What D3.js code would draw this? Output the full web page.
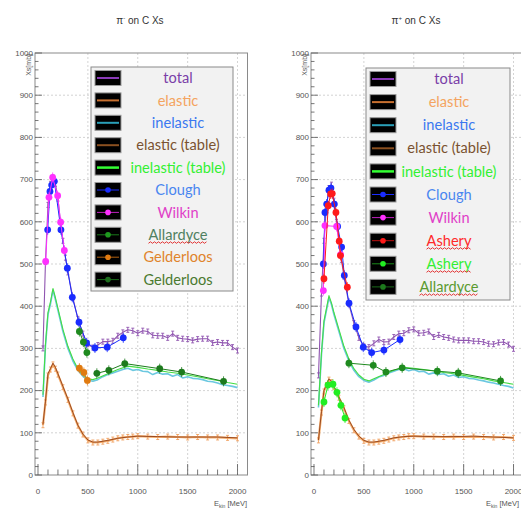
<!DOCTYPE html>
<html><head><meta charset="utf-8">
<script src="https://cdn.jsdelivr.net/npm/d3@7"></script>
<style>body{margin:0;background:#fff;} svg{display:block;}</style>
</head><body>
<svg id="c" width="521" height="508"></svg>
<script>
// ---------------- DATA: pi- on C ----------------
const xTicks = [0, 500, 1000, 1500, 2000];
const yTicks = [0, 100, 200, 300, 400, 500, 600, 700, 800, 900, 1000];

const pm_total = [[50,300],[75,505],[100,640],[125,690],[150,705],[175,690],[200,655],[225,600],[250,555],[275,515],[300,480],[350,420],[400,370],[450,335],[500,310],[550,302],[600,308],[650,316],[700,316],[750,318],[800,330],[850,338],[900,344],[950,342],[1000,336],[1050,342],[1100,340],[1150,331],[1200,330],[1250,330],[1300,325],[1350,335],[1400,325],[1450,323],[1500,322],[1550,319],[1600,322],[1650,323],[1700,323],[1750,313],[1800,315],[1850,313],[1900,313],[1950,303],[2000,295]];
const pm_elastic = [[50,118],[75,172],[100,236],[125,250],[150,262],[175,252],[200,238],[250,208],[300,178],[350,146],[400,117],[450,96],[500,82],[550,77],[600,77],[650,79],[700,81],[750,84],[800,87],[850,89],[900,90],[950,91],[1000,92],[1100,91],[1200,90],[1300,91],[1400,90],[1500,89],[1600,90],[1700,89],[1800,89],[1900,88],[2000,87]];
const pm_inelastic = [[50,185],[75,305],[100,380],[125,405],[150,438],[175,415],[200,390],[250,340],[300,300],[350,270],[400,248],[450,234],[500,225],[550,222],[600,226],[650,233],[700,238],[750,242],[800,246],[850,250],[900,253],[950,248],[1000,250],[1050,246],[1100,245],[1150,238],[1200,243],[1250,239],[1300,240],[1350,234],[1400,238],[1450,230],[1500,233],[1550,229],[1600,228],[1650,226],[1700,222],[1750,221],[1800,218],[1850,214],[1900,212],[1950,210],[2000,207]];
const pm_elasticTable = [[50,120],[75,175],[100,240],[125,252],[150,265],[175,255],[200,240],[250,210],[300,180],[350,148],[400,118],[450,97],[500,83],[550,78],[600,78],[700,82],[800,87],[900,90],[1000,92],[1200,91],[1400,90],[1600,90],[1800,90],[2000,88]];
const pm_inelasticTable = [[50,190],[75,310],[100,385],[125,410],[150,442],[175,420],[200,395],[250,345],[300,305],[350,275],[400,252],[450,238],[500,228],[550,226],[600,230],[700,240],[800,250],[900,258],[1000,255],[1100,251],[1200,248],[1300,244],[1400,241],[1500,237],[1600,233],[1700,228],[1800,224],[1900,219],[2000,215]];
const pm_clough = [[97,581],[120,672],[137,687],[164,696],[230,581],[294,490],[344,421],[411,362],[487,313],[571,301],[694,303],[855,325]];
const pm_wilkin = [[77,506],[110,658],[147,705],[197,662],[227,599],[264,532]];
const pm_allardyce = [[415,340],[455,315],[490,290]];
const pm_gelderloosA = [[415,253],[460,243],[495,224]];
const pm_gelderloosB = [[590,241],[710,248],[870,264],[1220,252],[1440,244],[1860,222]];

// ---------------- DATA: pi+ on C ----------------
const pp_total = [[45,236],[75,430],[100,555],[125,635],[150,680],[175,688],[200,650],[225,600],[250,555],[275,510],[300,470],[350,405],[400,360],[450,325],[500,305],[550,303],[600,312],[650,321],[700,315],[750,316],[800,327],[850,335],[900,336],[950,343],[1000,345],[1050,336],[1100,337],[1150,340],[1200,327],[1250,332],[1300,327],[1350,325],[1400,321],[1450,319],[1500,319],[1550,319],[1600,317],[1650,317],[1700,315],[1750,311],[1800,310],[1850,314],[1900,315],[1950,309],[2000,299]];
const pp_elastic = [[45,82],[75,148],[100,198],[125,213],[150,226],[175,220],[200,208],[250,183],[300,158],[350,128],[400,106],[450,91],[500,81],[550,77],[600,77],[650,79],[700,81],[750,84],[800,87],[850,89],[900,90],[950,92],[1000,92],[1100,91],[1200,91],[1300,90],[1400,91],[1500,90],[1600,91],[1700,90],[1800,89],[1900,90],[2000,88]];
const pp_inelastic = [[45,160],[75,285],[100,360],[125,390],[150,420],[175,404],[200,380],[250,340],[300,300],[350,270],[400,248],[450,233],[500,224],[550,220],[600,225],[650,232],[700,236],[750,242],[800,246],[850,250],[900,252],[950,247],[1000,250],[1050,245],[1100,246],[1150,239],[1200,242],[1250,238],[1300,240],[1350,234],[1400,237],[1450,231],[1500,233],[1550,229],[1600,228],[1650,225],[1700,223],[1750,220],[1800,218],[1850,215],[1900,212],[1950,210],[2000,206]];
const pp_elasticTable = [[45,83],[75,150],[100,200],[125,215],[150,228],[175,222],[200,210],[250,185],[300,160],[350,130],[400,108],[450,92],[500,82],[550,78],[600,78],[700,82],[800,88],[900,91],[1000,92],[1200,91],[1400,91],[1600,92],[1800,90],[2000,88]];
const pp_inelasticTable = [[45,165],[75,290],[100,365],[125,395],[150,425],[175,408],[200,385],[250,345],[300,305],[350,275],[400,252],[450,237],[500,227],[550,223],[600,228],[700,238],[800,248],[900,255],[1000,253],[1100,250],[1200,247],[1300,243],[1400,240],[1500,236],[1600,232],[1700,228],[1800,223],[1900,219],[2000,215]];
const pp_clough = [[94,500],[110,622],[127,642],[150,675],[170,680],[204,642],[237,589],[277,540],[304,473],[351,407],[421,351],[494,303],[578,290],[701,296],[862,321]];
const pp_wilkin = [[94,437],[110,591],[227,589],[267,522]];
const pp_asheryRed = [[100,465],[143,638],[167,666],[183,667],[220,622],[253,554],[265,520],[334,445]];
const pp_asheryGreen = [[100,173],[140,213],[190,215],[230,196],[270,165],[311,135]];
const pp_allardyce = [[350,265],[594,260],[721,244],[884,254],[1236,246],[1446,242],[1870,223]];

// ---------------- DRAWING ----------------
const svg = d3.select("#c");
svg.append("rect").attr("width",521).attr("height",508).attr("fill","#fff");

function wavy(g, x0, x1, yy){
  let d = `M${x0},${yy}`;
  let up = true;
  for (let xx = x0 + 2; xx <= x1; xx += 2){ d += `L${xx},${yy + (up ? -1.5 : 0)}`; up = !up; }
  g.append("path").attr("d", d).attr("fill","none").attr("stroke","#e02020").attr("stroke-width",0.9);
}

function panel(o){
  const g = svg.append("g").attr("transform", `translate(${o.dx},0)`);
  const x = d3.scaleLinear().domain([-30,2100]).range([35,247.5]);
  const y = d3.scaleLinear().domain([0,1000]).range([475,53]);
  const clipId = "clip" + o.dx;
  g.append("clipPath").attr("id", clipId).append("rect")
    .attr("x", 35).attr("y", 53).attr("width", 212.5).attr("height", 422);

  // title
  g.append("text").attr("x", 140).attr("y", 24).attr("text-anchor","middle")
    .attr("font-family","Liberation Sans, Arial, sans-serif").attr("font-size",10).attr("fill","#333")
    .html(o.title);

  // grid
  const grid = g.append("g").attr("stroke","#c8c8c8").attr("stroke-width",0.8).attr("stroke-dasharray","2,2");
  grid.selectAll("line.gx").data(xTicks.filter(d=>d>0)).join("line")
    .attr("x1", d=>x(d)).attr("x2", d=>x(d)).attr("y1", y(0)).attr("y2", y(1000));
  grid.selectAll("line.gy").data(yTicks.filter(d=>d>0 && d<1000)).join("line")
    .attr("x1", x(-30)).attr("x2", x(2100)).attr("y1", d=>y(d)).attr("y2", d=>y(d));

  // frame
  g.append("rect").attr("x",35).attr("y",53).attr("width",212.5).attr("height",422)
    .attr("fill","none").attr("stroke","#8a8a8a").attr("stroke-width",1);

  const plot = g.append("g").attr("clip-path", `url(#${clipId})`);
  const line = d3.line().x(d=>x(d[0])).y(d=>y(d[1]));
  function curve(data, color, w){
    plot.append("path").datum(data).attr("d", line).attr("fill","none")
      .attr("stroke", color).attr("stroke-width", w).attr("stroke-linejoin","round");
  }
  function errTicks(data, color){
    const gg = plot.append("g").attr("stroke", color).attr("stroke-width", 0.9);
    gg.selectAll("path").data(data).join("path")
      .attr("d", d => { const px = x(d[0]), py = y(d[1]);
        return `M${px},${py-2.5}V${py+2.5}M${px-1.5},${py-2.5}H${px+1.5}M${px-1.5},${py+2.5}H${px+1.5}`; });
  }
  function points(data, color){
    curve(data, color, 1);
    const gg = plot.append("g");
    gg.selectAll("line").data(data).join("line")
      .attr("x1", d=>x(d[0])).attr("x2", d=>x(d[0]))
      .attr("y1", d=>y(d[1])-5).attr("y2", d=>y(d[1])+5)
      .attr("stroke", color).attr("stroke-width", 0.8);
    gg.selectAll("circle").data(data).join("circle")
      .attr("cx", d=>x(d[0])).attr("cy", d=>y(d[1])).attr("r", 3.4).attr("fill", color);
  }

  curve(o.elastic, "#f6b070", 2.2);
  errTicks(o.elastic, "#f0a060");
  curve(o.elasticTable, "#9a4a20", 1);
  curve(o.inelastic, "#6cc8e0", 1.6);
  curve(o.inelasticTable, "#44dd44", 1.1);
  curve(o.total, "#9055b0", 1.1);
  errTicks(o.total, "#9055b0");
  o.points.forEach(p => points(p.data, p.color));

  // axes ticks (inside)
  const ax = g.append("g").attr("stroke","#555").attr("stroke-width",0.8);
  const yMinor = d3.range(0, 1001, 20);
  ax.selectAll("line.ym").data(yMinor).join("line")
    .attr("x1", 35).attr("x2", d => 35 + (d % 100 === 0 ? 7 : 3.5))
    .attr("y1", d=>y(d)).attr("y2", d=>y(d));
  const xMinor = d3.range(0, 2001, 100);
  ax.selectAll("line.xm").data(xMinor).join("line")
    .attr("y1", 475).attr("y2", d => 475 - (d % 500 === 0 ? 11 : 5.5))
    .attr("x1", d=>x(d)).attr("x2", d=>x(d));

  // tick labels
  const lab = g.append("g").attr("font-family","Liberation Sans, Arial, sans-serif").attr("font-size",8).attr("fill","#555");
  lab.selectAll("text.yl").data(yTicks).join("text")
    .attr("x", 33).attr("y", d=>y(d)).attr("dy","0.35em").attr("text-anchor","end").text(d=>d);
  lab.selectAll("text.xl").data(xTicks).join("text")
    .attr("x", d=>x(d)).attr("y", 494).attr("text-anchor","middle").text(d=>d);
  g.append("text").attr("transform","translate(31,54) rotate(-90)").attr("text-anchor","end")
    .attr("font-family","Liberation Sans, Arial, sans-serif").attr("font-size",7).attr("fill","#555").text("Xs[mb]");
  const xt = g.append("text").attr("x", o.xTitleX).attr("y", 506).attr("text-anchor","end")
    .attr("font-family","Liberation Sans, Arial, sans-serif").attr("font-size",7.5).attr("fill","#555");
  xt.append("tspan").text("E");
  xt.append("tspan").attr("font-size",5).attr("dy",1.5).text("kin");
  xt.append("tspan").attr("dy",-1.5).text(" [MeV]");

  // legend
  const L = o.legend;
  const lg = svg.append("g");
  lg.append("rect").attr("x", L.x).attr("y", L.y).attr("width", L.w).attr("height", L.h)
    .attr("fill","#f2f2f2").attr("stroke","#8a8a8a").attr("stroke-width",1);
  L.items.forEach((it, i) => {
    const cy = L.y0 + i * L.step;
    lg.append("rect").attr("x", L.sx).attr("y", cy - 7.5).attr("width", 26).attr("height", 15)
      .attr("fill","#000").attr("stroke","#9a9a9a").attr("stroke-width",1);
    lg.append("line").attr("x1", L.sx + 2).attr("x2", L.sx + 24).attr("y1", cy).attr("y2", cy)
      .attr("stroke", it.line).attr("stroke-width", it.dot ? 1 : (it.w || 2));
    if (it.dot) lg.append("circle").attr("cx", L.sx + 13).attr("cy", cy).attr("r", 2.8).attr("fill", it.dot);
    const t = lg.append("text").attr("x", L.tx).attr("y", cy).attr("dy","0.35em").attr("text-anchor","middle")
      .attr("font-family","Lato, 'Open Sans', sans-serif").attr("font-size",14.6).attr("fill", it.tc).text(it.label);
    if (it.wavy){
      const wdt = t.node().getComputedTextLength();
      wavy(lg, L.tx - wdt/2, L.tx + wdt/2, cy + 8.5);
    }
  });
}

panel({
  dx: 0, xTitleX: 247, title: "π<tspan font-size='6' dy='-4'>-</tspan><tspan dy='4'> on C Xs</tspan>",
  total: pm_total, elastic: pm_elastic, inelastic: pm_inelastic,
  elasticTable: pm_elasticTable, inelasticTable: pm_inelasticTable,
  points: [
    {data: pm_clough, color: "#1a2cff"},
    {data: pm_wilkin, color: "#ff30ff"},
    {data: pm_allardyce, color: "#1f8a1f"},
    {data: pm_gelderloosA, color: "#e07a10"},
    {data: pm_gelderloosB, color: "#1d7a1d"}
  ],
  legend: {x: 91, y: 67, w: 142, h: 224, y0: 78, step: 22.4, sx: 95, tx: 178, items: [
    {label:"total", line:"#8a3ab8", tc:"#7a3fa8"},
    {label:"elastic", line:"#c87030", tc:"#f4a460"},
    {label:"inelastic", line:"#2a9fb8", tc:"#3a78f0"},
    {label:"elastic (table)", line:"#8b5020", tc:"#7a5230"},
    {label:"inelastic (table)", line:"#33ff33", tc:"#33f033", w:2.5},
    {label:"Clough", line:"#1a2cff", dot:"#1a2cff", tc:"#4a86f0"},
    {label:"Wilkin", line:"#c020c0", dot:"#ff30ff", tc:"#e040c8"},
    {label:"Allardyce", line:"#1a7a1a", dot:"#1f9a1f", tc:"#4f8060", wavy:true},
    {label:"Gelderloos", line:"#b06010", dot:"#e07a10", tc:"#e0842c"},
    {label:"Gelderloos", line:"#1a6a1a", dot:"#1d6d1d", tc:"#4a7a30"}
  ]}
});

panel({
  dx: 276, xTitleX: 243, title: "π<tspan font-size='6' dy='-4'>+</tspan><tspan dy='4'> on C Xs</tspan>",
  total: pp_total, elastic: pp_elastic, inelastic: pp_inelastic,
  elasticTable: pp_elasticTable, inelasticTable: pp_inelasticTable,
  points: [
    {data: pp_clough, color: "#1a2cff"},
    {data: pp_wilkin, color: "#ff30ff"},
    {data: pp_asheryRed, color: "#ff1a1a"},
    {data: pp_asheryGreen, color: "#22ee22"},
    {data: pp_allardyce, color: "#1f8a1f"}
  ],
  legend: {x: 366, y: 68, w: 144, h: 232, y0: 79, step: 23.1, sx: 370, tx: 449, items: [
    {label:"total", line:"#8a3ab8", tc:"#7a3fa8"},
    {label:"elastic", line:"#c87030", tc:"#f4a460"},
    {label:"inelastic", line:"#2a9fb8", tc:"#3a78f0"},
    {label:"elastic (table)", line:"#8b5020", tc:"#7a5230"},
    {label:"inelastic (table)", line:"#33ff33", tc:"#33f033", w:2.5},
    {label:"Clough", line:"#1a2cff", dot:"#1a2cff", tc:"#4a86f0"},
    {label:"Wilkin", line:"#c020c0", dot:"#ff30ff", tc:"#e040c8"},
    {label:"Ashery", line:"#c01010", dot:"#ff1a1a", tc:"#ff2a2a", wavy:true},
    {label:"Ashery", line:"#1a8a1a", dot:"#22ee22", tc:"#33ee33", wavy:true},
    {label:"Allardyce", line:"#1a6a1a", dot:"#1d7a1d", tc:"#5a9a30", wavy:true}
  ]}
});
</script>
</body></html>
